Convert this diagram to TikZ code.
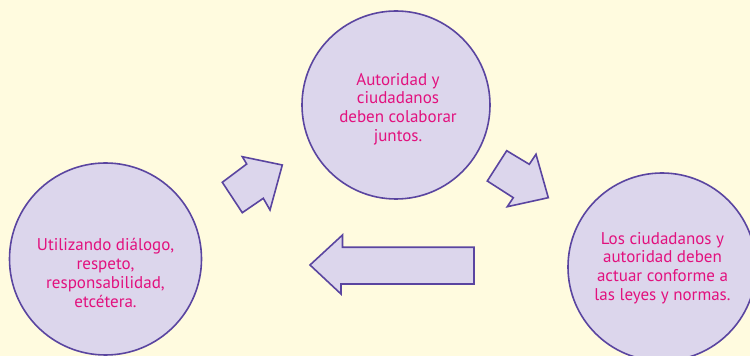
\documentclass[tikz,border=0pt]{standalone}
\usepackage{fontspec}
\setmainfont{PT Sans}
\definecolor{bgc}{HTML}{FFFBDF}
\definecolor{fillc}{HTML}{DCD6EC}
\definecolor{linec}{HTML}{5A45A0}
\definecolor{txtc}{HTML}{E2117E}
\tikzset{
  bubble/.style={circle, draw=linec, fill=fillc, line width=1.6pt, inner sep=0pt},
  bubtext/.style={text=txtc, align=center, font=\fontsize{17}{18.7}\selectfont},
  blockarrow/.style={draw=linec, fill=fillc, line width=1.6pt, line join=miter}
}
\begin{document}
\begin{tikzpicture}[x=1pt,y=1pt]
\fill[bgc] (0,0) rectangle (750,356);
\useasboundingbox (0,0) rectangle (750,356);
% circles (image y -> 356 - y)
\node[bubble, minimum size=192pt] (left) at (105.5,97) {};
\node[bubble, minimum size=188pt] (top) at (396,251) {};
\node[bubble, minimum size=188pt] (right) at (662,89) {};
\node[bubtext] (lt) at (105.5,83) {Utilizando diálogo,\\respeto,\\responsabilidad,\\etcétera.};
\node[bubtext] (tt) at (398,247) {Autoridad y\\ciudadanos\\deben colaborar\\juntos.};
\node[bubtext] (rt) at (662.5,88) {Los ciudadanos y\\autoridad deben\\actuar conforme a\\las leyes y normas.};
% arrow up-right
\draw[blockarrow] (282.3,191) -- (242.3,199.3) -- (246.7,192) -- (222.3,173.7) -- (242.3,143.3) -- (263.3,157.7) -- (270,146) -- cycle;
% arrow down-right
\draw[blockarrow] (548.3,158.3) -- (507.3,149.3) -- (513.3,158.3) -- (487.3,175) -- (506.7,205.3) -- (529.3,191.7) -- (536,201.7) -- cycle;
% arrow left
\draw[blockarrow] (310,91) -- (342.5,121) -- (342.5,108.7) -- (474,108.7) -- (474,72) -- (341,72) -- (341,62) -- cycle;
\end{tikzpicture}
\end{document}
